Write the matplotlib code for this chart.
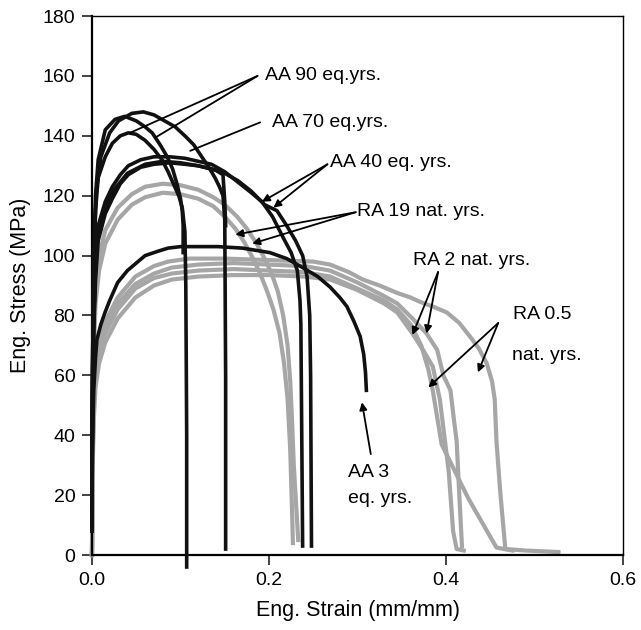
import matplotlib
matplotlib.use('Agg')
import matplotlib.pyplot as plt

plt.rcParams['font.family'] = ['Liberation Sans', 'DejaVu Sans']

# AA (black) curves: strain, stress
aa70_x = [0, 0.0005, 0.002, 0.005, 0.01, 0.02, 0.03, 0.045, 0.058, 0.07, 0.082, 0.094, 0.105,
          0.115, 0.124, 0.132, 0.139, 0.144, 0.148, 0.150, 0.151, 0.151]
aa70_y = [8, 60, 100, 122, 133, 141, 145, 147.5, 148, 147, 145, 143, 140,
          137, 133, 129.5, 126, 123, 120, 112, 60, 2]

aa90a_x = [0, 0.0005, 0.002, 0.004, 0.007, 0.015, 0.026, 0.037, 0.05, 0.06, 0.068, 0.077, 0.085,
           0.091, 0.096, 0.1, 0.102, 0.103, 0.103]
aa90a_y = [8, 60, 100, 120, 132, 142, 145.5, 146.5, 145, 143, 141, 137, 133,
           129, 124, 119, 115, 110, 101]

aa90b_x = [0, 0.0005, 0.002, 0.004, 0.007, 0.015, 0.023, 0.032, 0.041, 0.05, 0.06, 0.07, 0.079,
           0.086, 0.092, 0.098, 0.102, 0.105, 0.106, 0.107, 0.107]
aa90b_y = [8, 55, 95, 115, 126, 133, 137.5, 140, 141, 140.5, 138.5, 135.5, 132,
           128, 124, 120, 116, 108, 90, 40, -4]

aa40a_x = [0, 0.0005, 0.002, 0.004, 0.007, 0.015, 0.023, 0.032, 0.041, 0.055, 0.07, 0.088, 0.105,
           0.12, 0.135, 0.15, 0.165, 0.18, 0.192, 0.204, 0.216, 0.225, 0.232, 0.235, 0.236, 0.237, 0.238]
aa40a_y = [8, 50, 80, 98, 110, 118, 123, 127, 130, 132, 133, 133, 132.5,
           131.5, 130.5, 128, 124.5, 121, 118, 113, 106, 101, 95, 85, 77, 40, 3]

aa40b_x = [0, 0.0005, 0.002, 0.004, 0.007, 0.015, 0.023, 0.032, 0.041, 0.055, 0.07, 0.088, 0.105,
           0.12, 0.135, 0.15, 0.165, 0.18, 0.195, 0.209, 0.22, 0.23, 0.238, 0.243, 0.246, 0.247, 0.248]
aa40b_y = [8, 45, 75, 92, 105, 114, 119, 124, 127, 129.5, 130.5, 131, 130.5,
           130, 129, 127.5, 125, 121.5, 117, 115, 110, 105, 100, 93, 80, 60, 3]

aa40c_x = [0, 0.0005, 0.002, 0.004, 0.007, 0.015, 0.025, 0.04, 0.06, 0.08, 0.1, 0.12, 0.14,
           0.148, 0.150, 0.151]
aa40c_y = [8, 48, 78, 95, 108, 116, 122, 127.5, 130.5, 131.5, 131, 130, 128.5,
           127, 118, 110]

aa3_x = [0, 0.0005, 0.002, 0.004, 0.0056, 0.01, 0.0147, 0.02, 0.029, 0.04, 0.05, 0.06, 0.075,
         0.086, 0.1, 0.12, 0.142, 0.17, 0.201, 0.22, 0.238, 0.255, 0.269, 0.28, 0.288, 0.296,
         0.303, 0.307, 0.309, 0.310]
aa3_y = [8, 35, 55, 66, 72, 77, 81, 85, 91, 95, 97.5, 100, 101.5,
         102.5, 103, 103, 103, 102.5, 101, 99, 96, 93, 89.5, 86, 83, 78,
         73, 67, 61, 55]

# RA (grey) curves
ra19a_x = [0, 0.0005, 0.001, 0.002, 0.004, 0.008, 0.015, 0.029, 0.045, 0.06, 0.08, 0.1, 0.12,
           0.137, 0.15, 0.164, 0.175, 0.186, 0.195, 0.203, 0.21, 0.216, 0.221, 0.224, 0.226,
           0.228, 0.231, 0.233]
ra19a_y = [0, 30, 55, 75, 90, 100, 108.5, 116, 120.5, 123, 124, 123.5, 122,
           119.5, 117, 113, 109, 104, 99, 94, 88, 80, 70, 58, 45,
           30, 15, 5]

ra19b_x = [0, 0.0005, 0.001, 0.002, 0.004, 0.008, 0.015, 0.029, 0.045, 0.06, 0.08, 0.1, 0.12,
           0.137, 0.15, 0.162, 0.172, 0.182, 0.19, 0.198, 0.205, 0.212, 0.217, 0.221, 0.224,
           0.226, 0.227]
ra19b_y = [0, 25, 48, 68, 84, 95, 104, 112, 117, 119.5, 121, 120.5, 119,
           116.5, 113, 109, 104.5, 99, 94, 88, 82, 74, 64, 52, 35,
           15, 4]

ra05a_x = [0, 0.0005, 0.001, 0.002, 0.004, 0.008, 0.015, 0.029, 0.049, 0.07, 0.086, 0.11, 0.15,
           0.2, 0.25, 0.269, 0.29, 0.306, 0.325, 0.345, 0.36, 0.371, 0.385, 0.401, 0.415, 0.427,
           0.437, 0.446, 0.452, 0.455, 0.457, 0.459, 0.461, 0.464, 0.467, 0.49, 0.527]
ra05a_y = [0, 20, 40, 55, 65, 72, 78, 86, 93, 96.5, 98, 99, 99,
           98.5, 98, 97, 94.5, 92, 90, 87.5, 86, 84.5, 83, 81, 77.5, 73,
           69, 64, 58, 52, 38, 30, 22, 12, 2, 1.5, 1]

ra05b_x = [0, 0.0005, 0.001, 0.002, 0.004, 0.008, 0.015, 0.029, 0.049, 0.07, 0.09, 0.12, 0.16,
           0.2, 0.24, 0.269, 0.3, 0.33, 0.345, 0.36, 0.372, 0.38, 0.385, 0.39, 0.395, 0.425,
           0.457, 0.475]
ra05b_y = [0, 18, 36, 50, 60, 68, 74, 82, 89, 92.5, 94, 95, 95.5,
           95, 94.5, 93, 89, 85, 82, 77, 70, 62, 55, 46, 37, 19,
           2.5, 1.5]

ra2a_x = [0, 0.0005, 0.001, 0.002, 0.004, 0.008, 0.015, 0.029, 0.049, 0.07, 0.09, 0.12, 0.16,
          0.2, 0.24, 0.269, 0.3, 0.33, 0.345, 0.362, 0.375, 0.385, 0.393, 0.398, 0.403, 0.408,
          0.412, 0.42]
ra2a_y = [0, 15, 32, 45, 56, 64, 71, 79, 86, 90, 92, 93, 93.5,
          93.5, 93, 92, 88.5, 84, 81, 74, 68, 63, 52, 40, 28, 8,
          2, 1.5]

ra2b_x = [0, 0.0005, 0.001, 0.002, 0.004, 0.008, 0.015, 0.029, 0.049, 0.07, 0.09, 0.12, 0.16,
          0.2, 0.24, 0.269, 0.3, 0.33, 0.345, 0.362, 0.378, 0.39, 0.397, 0.405, 0.409, 0.412,
          0.415, 0.418]
ra2b_y = [0, 18, 38, 52, 62, 70, 76, 84, 90.5, 94, 96, 97, 97.5,
          97, 96.5, 95, 91, 86.5, 84, 79, 74, 68.5, 60, 55, 45, 38,
          20, 3]

grey_curves = [(ra19a_x, ra19a_y), (ra19b_x, ra19b_y), (ra05a_x, ra05a_y),
               (ra05b_x, ra05b_y), (ra2a_x, ra2a_y), (ra2b_x, ra2b_y)]
black_curves = [(aa70_x, aa70_y), (aa90a_x, aa90a_y), (aa90b_x, aa90b_y),
                (aa40a_x, aa40a_y), (aa40b_x, aa40b_y), (aa40c_x, aa40c_y), (aa3_x, aa3_y)]

fig = plt.figure(figsize=(6.41, 6.30), dpi=100)
ax = fig.add_axes([0.1435, 0.119, 0.8285, 0.8555])

for x, y in grey_curves:
    ax.plot(x, y, color='#a6a6a6', lw=3.0, solid_joinstyle='round', clip_on=False, zorder=2)
for x, y in black_curves:
    ax.plot(x, y, color='#111111', lw=2.6, solid_joinstyle='round', clip_on=False, zorder=3)

ax.set_xlim(0, 0.6)
ax.set_ylim(0, 180)
ax.set_xticks([0.0, 0.2, 0.4, 0.6])
ax.set_xticklabels(['0.0', '0.2', '0.4', '0.6'])
ax.set_yticks(range(0, 181, 20))
ax.tick_params(direction='out', length=7, width=1.2, labelsize=14, pad=5, color='#222222')
for side in ['left', 'bottom']:
    ax.spines[side].set_linewidth(1.6)
for side in ['top', 'right']:
    ax.spines[side].set_linewidth(1.0)
ax.set_xlabel('Eng. Strain (mm/mm)', fontsize=15.5, labelpad=8)
ax.set_ylabel('Eng. Stress (MPa)', fontsize=15.5, labelpad=8)

fs = 14
ax.text(0.1955, 160.3, 'AA 90 eq.yrs.', fontsize=fs, va='center', ha='left')
ax.text(0.203, 144.3, 'AA 70 eq.yrs.', fontsize=fs, va='center', ha='left')
ax.text(0.269, 131, 'AA 40 eq. yrs.', fontsize=fs, va='center', ha='left')
ax.text(0.299, 114.6, 'RA 19 nat. yrs.', fontsize=fs, va='center', ha='left')
ax.text(0.3627, 98.5, 'RA 2 nat. yrs.', fontsize=fs, va='center', ha='left')
ax.text(0.4757, 80.2, 'RA 0.5', fontsize=fs, va='center', ha='left')
ax.text(0.4746, 66.8, 'nat. yrs.', fontsize=fs, va='center', ha='left')
ax.text(0.289, 27.4, 'AA 3', fontsize=fs, va='center', ha='left')
ax.text(0.289, 19, 'eq. yrs.', fontsize=fs, va='center', ha='left')

plain = dict(arrowstyle='-', color='black', lw=1.3, shrinkA=0, shrinkB=0)
head = dict(arrowstyle='-|>', color='black', lw=1.3, mutation_scale=11, shrinkA=0, shrinkB=0)

arrows = [
    ((0.187, 160), (0.043, 141), plain),
    ((0.187, 160), (0.072, 139.5), plain),
    ((0.19, 144.5), (0.111, 135), plain),
    ((0.266, 130.5), (0.192, 118), head),
    ((0.266, 130.5), (0.205, 116), head),
    ((0.298, 114.5), (0.162, 107), head),
    ((0.298, 114.5), (0.181, 104), head),
    ((0.391, 94.5), (0.362, 73.5), head),
    ((0.391, 94.5), (0.378, 74), head),
    ((0.459, 77.5), (0.38, 56), head),
    ((0.459, 77.5), (0.436, 61), head),
    ((0.315, 33.7), (0.305, 51), head),
]
for tail, tip, style in arrows:
    ax.annotate('', xy=tip, xytext=tail, arrowprops=style, zorder=4)

fig.savefig('out.png', dpi=100)
